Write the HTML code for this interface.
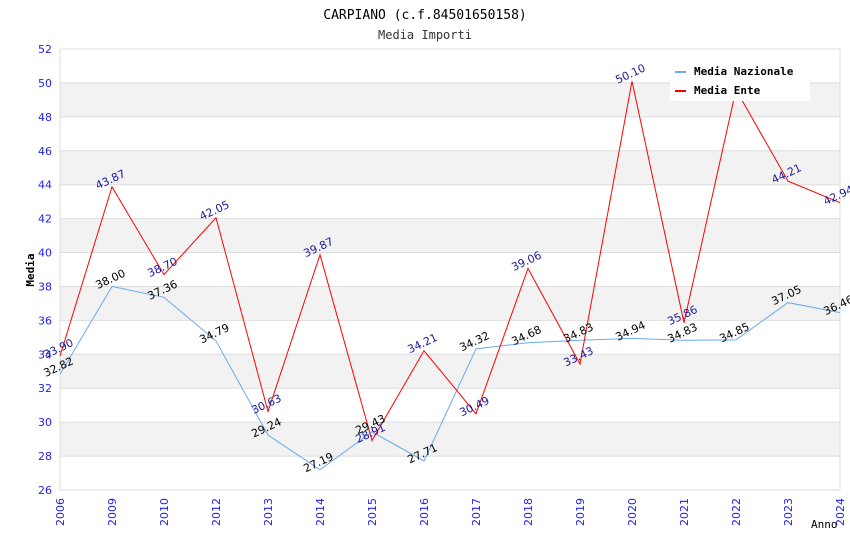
<!DOCTYPE html>
<html><head><meta charset="utf-8"><style>
body{margin:0;background:#fff;}
svg{display:block;font-family:"DejaVu Sans Mono","Liberation Mono",monospace;}
.sans{font-family:"DejaVu Sans","Liberation Sans",sans-serif;}
</style></head><body>
<svg id="chart" width="850" height="550">
<text x="425" y="19" text-anchor="middle" font-size="13" fill="#000">CARPIANO (c.f.84501650158)</text>
<text x="425" y="39" text-anchor="middle" font-size="12" fill="#333">Media Importi</text>
<g id="grid"></g><g id="axes"></g><g id="series"></g><g id="labels"></g>
<g>
<rect x="670" y="60" width="140" height="41" fill="#fff"/>
<g><line x1="675" y1="72" x2="686" y2="72" stroke="#6aaaf0" stroke-width="2"/><text x="694" y="75" font-size="11" font-weight="bold">Media Nazionale</text></g>
<g><line x1="675" y1="91" x2="686" y2="91" stroke="#f00" stroke-width="2"/><text x="694" y="94" font-size="11" font-weight="bold">Media Ente</text></g>
</g>
</svg>
<script>
const categories=["2006","2009","2010","2012","2013","2014","2015","2016","2017","2018","2019","2020","2021","2022","2023","2024"];
const nazionale=[32.82,38.00,37.36,34.79,29.24,27.19,29.43,27.71,34.32,34.68,34.83,34.94,34.83,34.85,37.05,36.46];
const ente=[33.90,43.87,38.70,42.05,30.63,39.87,28.91,34.21,30.49,39.06,33.43,50.10,35.86,49.60,44.21,42.94];
const yTicks=[26,28,30,32,34,36,38,40,42,44,46,48,50,52];
const X0=60,X1=840,Y0=490,Y1=49,YMIN=26,YMAX=52;
const NS="http://www.w3.org/2000/svg";
function x(i){return X0+i*(X1-X0)/(categories.length-1);}
function y(v){return Y0-(v-YMIN)*(Y0-Y1)/(YMAX-YMIN);}
function mk(t,a,p){const e=document.createElementNS(NS,t);for(const k in a)e.setAttribute(k,a[k]);p.appendChild(e);return e;}
const grid=document.getElementById('grid'),axes=document.getElementById('axes'),ser=document.getElementById('series'),lab=document.getElementById('labels');
for(let i=0;i<yTicks.length-1;i++){
  if(i%2===1){const r=mk('rect',{x:X0,y:y(yTicks[i+1]),width:X1-X0,height:y(yTicks[i])-y(yTicks[i+1]),fill:'#f2f2f2'},grid);
  
  }
}
yTicks.forEach(t=>{
  const l=mk('line',{x1:X0,x2:X1,y1:y(t),y2:y(t),stroke:'#ddd'},grid);
  
  
  const tx=mk('text',{x:X0-8,y:y(t)+4,'text-anchor':'end','font-size':'11',fill:'#2222ee',class:'sans'},axes);
  tx.textContent=t;
  
  
});
mk('line',{x1:X0,x2:X0,y1:Y1,y2:Y0,stroke:'#ddd'},axes);
mk('line',{x1:X1,x2:X1,y1:Y1,y2:Y0,stroke:'#ddd'},axes);
categories.forEach((c,i)=>{
  const tx=mk('text',{x:x(i)+4,y:Y0+8,'text-anchor':'end','font-size':'11',fill:'#2222ee',class:'sans',transform:`rotate(-90 ${x(i)+4} ${Y0+8})`},axes);
  tx.textContent=c;
  
  
});
const yt=mk('text',{x:34,y:270,'text-anchor':'middle','font-size':'11','font-weight':'bold',transform:'rotate(-90 34 270)'},axes);
yt.textContent='Media';


const xt=mk('text',{x:811,y:528,'font-size':'11'},axes);
xt.textContent='Anno';


function series(vals,color,name,lc){
  const p=mk('polyline',{points:vals.map((v,i)=>x(i)+','+y(v)).join(' '),fill:'none',stroke:color,'stroke-width':1},ser);
  
  
  vals.forEach((v,i)=>{
    const px=x(i),py=y(v)-4;
    const t=mk('text',{x:px,y:py,'text-anchor':'middle','font-size':'11',fill:lc,class:'sans',transform:`rotate(-25 ${px} ${py})`},lab);
    t.textContent=v.toFixed(2);
    
    
  });
}
series(nazionale,'#6aaaf0','nazionale','#000');
series(ente,'#ff0000','ente','#1a1a99');
</script>
</body></html>
